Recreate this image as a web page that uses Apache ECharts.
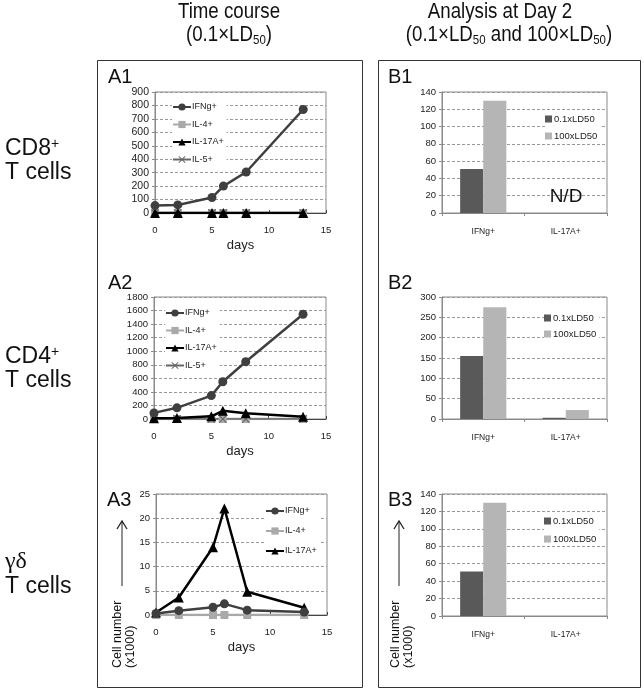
<!DOCTYPE html>
<html><head><meta charset="utf-8">
<script src="https://cdn.jsdelivr.net/npm/echarts@6/dist/echarts.min.js"></script>
<style>html,body{margin:0;padding:0;background:#fff}#c{width:644px;height:692px}</style>
</head><body><div id="c"></div>
<script>
// ---------- data ----------
const days = [0, 2, 5, 6, 8, 13];
const cd8IFNg  = [55, 60, 115, 200, 305, 770];
const cd8IL4   = [0, 0, 0, 0, 0, 0];
const cd8IL17A = [0, 0, 0, 0, 0, 0];
const cd8IL5   = [0, 0, 0, 0, 0, 0];
const cd4IFNg  = [90, 165, 345, 550, 845, 1545];
const cd4IL4   = [0, 0, 0, 0, 0, 0];
const cd4IL17A = [10, 15, 40, 120, 85, 35];
const cd4IL5   = [0, 0, 0, 0, 0, 0];
const gdIFNg   = [0.3, 0.9, 1.6, 2.3, 1.0, 0.6];
const gdIL4    = [0, 0, 0, 0, 0, 0];
const gdIL17A  = [0.5, 3.6, 14, 22, 4.8, 1.5];
const barCats  = ['IFNg+', 'IL-17A+'];
const b1Low  = [51, null],  b1High = [130, null];
const b2Low  = [155, 3],    b2High = [275, 22];
const b3Low  = [51, null],  b3High = [130, null];
const lineLegend4 = ['IFNg+', 'IL-4+', 'IL-17A+', 'IL-5+'];
const lineLegend3 = ['IFNg+', 'IL-4+', 'IL-17A+'];
const barLegend = ['0.1xLD50', '100xLD50'];

// ---------- helpers ----------
const FONT = "'Liberation Sans', Arial, sans-serif";
const pairs = v => days.map((d, i) => [d, v[i]]);
const C_IFN = '#3f3f3f', C_IL4 = '#a9a9a9', C_IL17 = '#000000', C_IL5 = '#666666';
const X_SYM = 'path://M0,1L1,0L5,4L9,0L10,1L6,5L10,9L9,10L5,6L1,10L0,9L4,5Z';

function lineSeries(name, v, g) {
  const st = {
    'IFNg+':  {symbol: 'circle', size: 9, color: C_IFN, w: 2.5, z: 5},
    'IL-4+':  {symbol: 'rect', size: 8, color: C_IL4, w: 2.5, z: 3},
    'IL-17A+':{symbol: 'triangle', size: 10, color: C_IL17, w: 2.5, z: 4},
    'IL-5+':  {symbol: X_SYM, size: 8, color: C_IL5, w: 1.5, z: 3}
  }[name];
  return {type: 'line', name, xAxisIndex: g, yAxisIndex: g, data: pairs(v),
    symbol: st.symbol, symbolSize: st.size, z: st.z,
    lineStyle: {color: st.color, width: st.w},
    itemStyle: {color: st.color}, animation: false};
}
function barSeries(name, v, g) {
  return {type: 'bar', name, xAxisIndex: g, yAxisIndex: g, data: v,
    barGap: '0%', barCategoryGap: '44%',
    itemStyle: {color: name === '0.1xLD50' ? '#595959' : '#b5b5b5'}, animation: false};
}
function yAx(g, max, interval, fs) {
  return {type: 'value', gridIndex: g, min: 0, max, interval,
    axisLine: {show: true, lineStyle: {color: '#8a8a8a'}},
    axisTick: {show: true, length: 3, lineStyle: {color: '#8a8a8a'}},
    axisLabel: {fontSize: fs, color: '#222', margin: 6, fontFamily: FONT, formatter: v => String(v)},
    splitLine: {show: true, lineStyle: {color: '#9a9a9a', type: [3, 2]}}};
}
function xDays(g) {
  return {type: 'value', gridIndex: g, min: 0, max: 15, interval: 5,
    axisLine: {show: true, onZero: false, lineStyle: {color: '#444'}},
    axisTick: {show: true, inside: true, length: 3, lineStyle: {color: '#444'}},
    axisLabel: {fontSize: 9.5, color: '#222', margin: 12, fontFamily: FONT},
    splitLine: {show: false},
    name: 'days', nameLocation: 'middle', nameGap: 26,
    nameTextStyle: {fontSize: 13, color: '#222', fontFamily: FONT}};
}
function xCat(g) {
  return {type: 'category', gridIndex: g, data: barCats,
    axisLine: {show: true, lineStyle: {color: '#8a8a8a'}},
    axisTick: {show: true, length: 3, lineStyle: {color: '#8a8a8a'}},
    axisLabel: {fontSize: 8.5, color: '#222', margin: 14, fontFamily: FONT}};
}
function lineLegend(data, left, top, gap) {
  return {data, orient: 'vertical', left, top, itemWidth: 18, itemHeight: 9, itemGap: gap,
    padding: [0, 3, 0, 0], backgroundColor: '#fff',
    textStyle: {fontSize: 9, color: '#222', lineHeight: 12, fontFamily: FONT, padding: [0, 0, 0, -4]}};
}
function barLeg(left, top, gap) {
  return {data: barLegend, orient: 'vertical', left, top, icon: 'rect', itemWidth: 7, itemHeight: 7,
    itemGap: gap, padding: [0, 3, 0, 0], backgroundColor: '#fff',
    textStyle: {fontSize: 9.5, color: '#222', lineHeight: 12, fontFamily: FONT, padding: [0, 0, 0, -3]}};
}
function arrow(x, y1, y2) {
  return [
    {type: 'line', z: 10, shape: {x1: x, y1: y1, x2: x, y2: y2}, style: {stroke: '#222', lineWidth: 1}},
    {type: 'polyline', z: 10, shape: {points: [[x - 5, y1 + 8], [x, y1], [x + 5, y1 + 8]]},
      style: {stroke: '#222', lineWidth: 1.3, fill: null}}
  ];
}

const gridsA = [
  {left: 155, top: 92, width: 171, height: 121},
  {left: 154, top: 297, width: 172, height: 122},
  {left: 156, top: 494, width: 171, height: 121}
];
const gridsB = [
  {left: 442, top: 92, width: 165, height: 121},
  {left: 442, top: 297, width: 165, height: 122},
  {left: 442, top: 494, width: 165, height: 122}
];
const grids = gridsA.concat(gridsB).map(g => Object.assign({show: true, borderColor: '#8a8a8a',
  borderWidth: 1, backgroundColor: 'transparent'}, g));

const TF = FONT;
const titleRich = {
  a: {fontSize: 22, lineHeight: 24, fontFamily: TF, fill: '#111'},
  s: {fontSize: 13.5, lineHeight: 10, verticalAlign: 'bottom', fontFamily: TF, fill: '#111'}
};
const sideRich = {
  a: {fontSize: 23, lineHeight: 24, fontFamily: FONT, fill: '#111'},
  p: {fontSize: 14, lineHeight: 14, verticalAlign: 'top', fontFamily: FONT, fill: '#111'},
  g: {fontSize: 24, lineHeight: 26, fontFamily: "'Liberation Serif', serif", fill: '#111'}
};
const SX = 0.85;

const graphics = [
  {type: 'rect', shape: {x: 97.5, y: 60.5, width: 265, height: 627}, style: {stroke: '#333', fill: null, lineWidth: 1}},
  {type: 'rect', shape: {x: 378.5, y: 60.5, width: 262, height: 627}, style: {stroke: '#333', fill: null, lineWidth: 1}},
  {type: 'text', x: 229, y: 12, scaleX: SX, style: {text: 'Time course', fontSize: 22, align: 'center', verticalAlign: 'middle',
    fontFamily: TF, fill: '#111'}},
  {type: 'text', x: 229, y: 35, scaleX: SX, style: {text: '{a|(0.1×LD}{s|50}{a|)}', rich: titleRich, align: 'center', verticalAlign: 'middle'}},
  {type: 'text', x: 500, y: 12, scaleX: SX, style: {text: 'Analysis at Day 2', fontSize: 22, align: 'center', verticalAlign: 'middle',
    fontFamily: TF, fill: '#111'}},
  {type: 'text', x: 509, y: 35, scaleX: SX, style: {text: '{a|(0.1×LD}{s|50}{a| and 100×LD}{s|50}{a|)}', rich: titleRich, align: 'center', verticalAlign: 'middle'}},
  {type: 'text', x: 5, y: 161, style: {text: '{a|CD8}{p|+}\n{a|T cells}', rich: sideRich, align: 'left', verticalAlign: 'middle'}},
  {type: 'text', x: 5, y: 369, style: {text: '{a|CD4}{p|+}\n{a|T cells}', rich: sideRich, align: 'left', verticalAlign: 'middle'}},
  {type: 'text', x: 5, y: 574, style: {text: '{g|γδ}\n{a|T cells}', rich: sideRich, align: 'left', verticalAlign: 'middle'}},
  {type: 'text', x: 108, y: 77, style: {text: 'A1', fontSize: 20, fontFamily: FONT, fill: '#111', align: 'left', verticalAlign: 'middle'}},
  {type: 'text', x: 108, y: 283, style: {text: 'A2', fontSize: 20, fontFamily: FONT, fill: '#111', align: 'left', verticalAlign: 'middle'}},
  {type: 'text', x: 107, y: 500, style: {text: 'A3', fontSize: 20, fontFamily: FONT, fill: '#111', align: 'left', verticalAlign: 'middle'}},
  {type: 'text', x: 388, y: 77, style: {text: 'B1', fontSize: 20, fontFamily: FONT, fill: '#111', align: 'left', verticalAlign: 'middle'}},
  {type: 'text', x: 388, y: 283, style: {text: 'B2', fontSize: 20, fontFamily: FONT, fill: '#111', align: 'left', verticalAlign: 'middle'}},
  {type: 'text', x: 388, y: 500, style: {text: 'B3', fontSize: 20, fontFamily: FONT, fill: '#111', align: 'left', verticalAlign: 'middle'}},
  {type: 'text', x: 566, y: 197, z: 10, style: {text: 'N/D', fontSize: 19, fontFamily: FONT, fill: '#111', align: 'center', verticalAlign: 'middle'}},
  ...arrow(122, 521, 586),
  ...arrow(399, 521, 586),
  {type: 'text', x: 111, y: 668, rotation: Math.PI / 2, style: {text: 'Cell number\n(x1000)', fontSize: 12.5, lineHeight: 13,
    fontFamily: FONT, fill: '#111', align: 'left', verticalAlign: 'top'}},
  {type: 'text', x: 389, y: 668, rotation: Math.PI / 2, style: {text: 'Cell number\n(x1000)', fontSize: 12.5, lineHeight: 13,
    fontFamily: FONT, fill: '#111', align: 'left', verticalAlign: 'top'}}
];

const option = {
  backgroundColor: '#fff',
  animation: false,
  grid: grids,
  xAxis: [xDays(0), xDays(1), xDays(2), xCat(3), xCat(4), xCat(5)],
  yAxis: [yAx(0, 900, 100, 10.5), yAx(1, 1800, 200, 9.5), yAx(2, 25, 5, 9.5),
          yAx(3, 140, 20, 9.5), yAx(4, 300, 50, 9.5), yAx(5, 140, 20, 9.5)],
  legend: [
    lineLegend(lineLegend4, 172, 101, 5.5),
    lineLegend(lineLegend4, 165, 307, 5.5),
    lineLegend(lineLegend3, 265, 505, 8),
    barLeg(545, 113, 5),
    barLeg(544, 312, 4),
    barLeg(544, 515, 6)
  ],
  series: [
    lineSeries('IL-4+', cd8IL4, 0), lineSeries('IL-5+', cd8IL5, 0), lineSeries('IL-17A+', cd8IL17A, 0), lineSeries('IFNg+', cd8IFNg, 0),
    lineSeries('IL-4+', cd4IL4, 1), lineSeries('IL-5+', cd4IL5, 1), lineSeries('IL-17A+', cd4IL17A, 1), lineSeries('IFNg+', cd4IFNg, 1),
    lineSeries('IL-4+', gdIL4, 2), lineSeries('IFNg+', gdIFNg, 2), lineSeries('IL-17A+', gdIL17A, 2),
    barSeries('0.1xLD50', b1Low, 3), barSeries('100xLD50', b1High, 3),
    barSeries('0.1xLD50', b2Low, 4), barSeries('100xLD50', b2High, 4),
    barSeries('0.1xLD50', b3Low, 5), barSeries('100xLD50', b3High, 5)
  ],
  graphic: graphics
};
const chart = echarts.init(document.getElementById('c'), null, {renderer: 'canvas'});
chart.setOption(option);
</script>
</body></html>
